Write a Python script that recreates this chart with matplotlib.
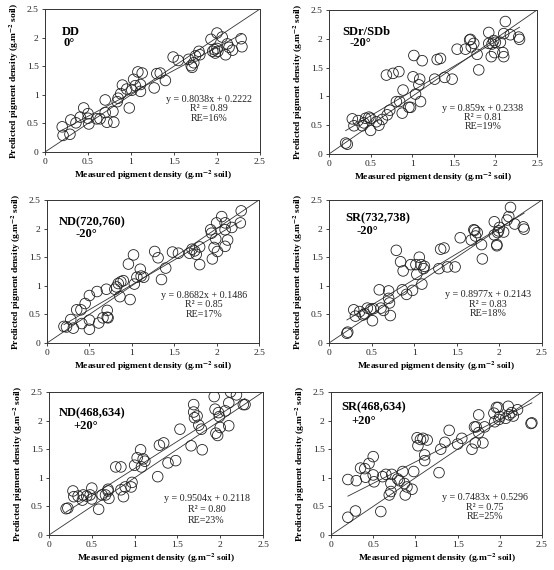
import matplotlib
matplotlib.use("Agg")
import matplotlib.pyplot as plt
import numpy as np

plt.rcParams['font.family'] = ['Liberation Serif', 'DejaVu Serif']
plt.rcParams['mathtext.fontset'] = 'stix'

# ---------------- data ----------------
dd_x = [0.20,0.21,0.29,0.30,0.36,0.41,0.45,0.50,0.51,0.50,0.60,0.64,0.70,0.70,0.72,0.80,0.79,0.84,0.85,0.88,0.90,0.98,0.95,1.01,1.03,1.05,1.08,1.11,1.11,1.13,1.27,1.30,1.34,1.40,1.49,1.55,1.67,1.70,1.71,1.73,1.75,1.79,1.80,1.93,1.95,1.97,1.98,2.00,2.01,2.00,2.06,2.10,2.12,2.14,2.18,2.28,2.29]
dd_y = [0.44,0.29,0.31,0.56,0.51,0.61,0.77,0.67,0.49,0.59,0.58,0.58,0.91,0.69,0.52,0.52,0.71,0.88,0.94,1.02,1.17,0.77,1.10,1.08,1.27,1.16,1.40,1.18,1.06,1.38,1.12,1.37,1.38,1.25,1.66,1.60,1.62,1.51,1.48,1.56,1.68,1.76,1.70,1.97,1.76,1.79,1.73,2.08,1.76,1.81,2.01,1.70,1.89,1.83,1.78,1.98,1.84]

sd_x = [0.20,0.22,0.28,0.30,0.35,0.40,0.42,0.44,0.48,0.50,0.50,0.57,0.60,0.64,0.69,0.70,0.73,0.77,0.81,0.84,0.85,0.88,0.89,0.96,0.98,1.02,1.01,1.04,1.08,1.09,1.10,1.12,1.27,1.30,1.34,1.39,1.48,1.54,1.64,1.69,1.70,1.71,1.74,1.78,1.80,1.92,1.92,1.95,1.96,1.98,1.99,2.00,2.06,2.09,2.10,2.12,2.10,2.18,2.28,2.29]
sd_y = [0.19,0.17,0.61,0.49,0.58,0.49,0.54,0.62,0.64,0.62,0.41,0.56,0.50,0.60,1.37,0.68,0.76,1.40,0.91,1.43,0.91,0.71,1.11,0.81,0.81,1.71,1.34,1.04,1.20,1.30,0.91,1.62,1.30,1.64,1.66,1.33,1.30,1.82,1.82,1.98,1.99,1.86,1.92,1.73,1.46,2.11,1.92,1.69,1.91,1.97,1.76,1.94,1.94,1.76,1.69,2.30,2.09,2.07,2.03,1.99]

nd1_x = [0.20,0.23,0.28,0.31,0.35,0.40,0.41,0.45,0.50,0.50,0.50,0.59,0.61,0.66,0.70,0.71,0.71,0.72,0.80,0.82,0.84,0.86,0.87,0.90,0.96,0.98,1.02,1.03,1.06,1.10,1.11,1.14,1.27,1.31,1.35,1.40,1.48,1.55,1.68,1.71,1.74,1.76,1.80,1.80,1.93,1.94,1.95,1.97,1.99,2.00,2.01,2.06,2.10,2.10,2.10,2.13,2.18,2.29,2.28]
nd1_y = [0.29,0.28,0.41,0.26,0.58,0.58,0.34,0.69,0.83,0.40,0.24,0.90,0.35,0.44,0.94,0.57,0.45,0.44,0.94,0.98,1.04,0.81,1.07,1.09,1.38,0.76,1.54,1.03,1.15,1.29,1.17,1.15,1.60,1.49,1.11,1.31,1.59,1.57,1.57,1.64,1.61,1.55,1.68,1.37,1.98,1.92,1.47,1.67,1.82,2.10,1.60,2.21,2.10,1.98,1.69,1.80,2.02,2.31,2.10]

sr1_x = [0.21,0.22,0.29,0.31,0.36,0.40,0.42,0.45,0.49,0.51,0.52,0.59,0.61,0.64,0.70,0.70,0.71,0.72,0.79,0.84,0.86,0.87,0.91,0.96,0.98,1.02,1.03,1.06,1.08,1.09,1.11,1.12,1.29,1.31,1.35,1.39,1.48,1.54,1.67,1.70,1.71,1.72,1.74,1.79,1.80,1.94,1.94,1.97,1.97,1.98,1.99,2.00,2.05,2.09,2.11,2.13,2.18,2.28,2.29]
sr1_y = [0.17,0.19,0.58,0.47,0.55,0.49,0.51,0.61,0.59,0.39,0.60,0.93,0.61,0.57,0.78,0.91,0.70,0.48,1.62,1.42,0.93,1.26,0.85,1.37,0.92,1.37,1.20,1.50,1.37,1.03,1.30,1.34,1.30,1.64,1.66,1.33,1.33,1.84,1.80,1.98,1.97,1.87,1.93,1.72,1.47,2.12,1.89,1.72,1.70,1.93,1.96,2.02,1.94,2.15,2.21,2.37,2.08,2.03,1.99]

nd2_x = [0.20,0.22,0.28,0.29,0.34,0.39,0.40,0.44,0.48,0.50,0.50,0.58,0.62,0.66,0.69,0.69,0.70,0.78,0.84,0.84,0.87,0.89,0.96,0.97,1.00,1.03,1.07,1.08,1.10,1.12,1.27,1.29,1.34,1.39,1.48,1.53,1.66,1.69,1.69,1.70,1.73,1.75,1.78,1.79,1.93,1.94,1.95,1.97,1.98,1.99,2.00,2.06,2.10,2.10,2.12,2.19,2.27,2.29]
nd2_y = [0.46,0.47,0.77,0.67,0.68,0.61,0.70,0.68,0.70,0.82,0.63,0.45,0.70,0.70,0.77,0.80,0.64,1.19,1.19,0.79,0.67,0.84,0.84,0.92,1.22,1.35,1.49,1.19,1.33,1.29,1.02,1.57,1.61,1.26,1.30,1.85,1.56,2.28,2.15,2.05,2.08,1.92,1.85,1.49,2.42,2.20,1.78,1.74,2.14,2.07,1.88,2.17,2.31,1.91,2.50,2.45,2.28,2.28]

sr2_x = [0.20,0.20,0.29,0.30,0.35,0.40,0.41,0.45,0.50,0.50,0.51,0.59,0.61,0.65,0.69,0.71,0.71,0.72,0.79,0.81,0.85,0.87,0.88,0.90,0.96,0.98,1.02,1.03,1.06,1.09,1.11,1.11,1.14,1.28,1.30,1.35,1.40,1.50,1.55,1.67,1.70,1.71,1.72,1.75,1.75,1.80,1.82,1.93,1.94,1.96,1.98,1.99,2.00,2.07,2.10,2.11,2.14,2.16,2.21,2.37,2.38]
sr2_y = [0.31,0.97,0.42,0.95,1.17,1.16,1.01,1.25,1.37,1.05,0.93,0.41,1.02,1.06,0.70,0.76,0.90,1.06,0.98,0.95,1.11,0.90,0.70,0.84,0.80,1.11,1.70,1.56,1.67,1.69,1.30,1.40,1.66,1.09,1.50,1.62,1.83,1.59,1.69,1.50,1.89,1.61,1.89,2.10,1.79,1.61,1.89,2.13,1.98,2.23,2.23,2.02,2.07,2.04,2.25,2.10,2.14,2.08,2.19,1.95,1.96]

titles = ["DD", "SDr/SDb", "ND(720,760)", "SR(732,738)", "ND(468,634)", "SR(468,634)"]
angles = ["0°", "-20°", "-20°", "-20°", "+20°", "+20°"]
slopes = [0.8038, 0.859, 0.8682, 0.8977, 0.9504, 0.7483]
intercepts = [0.2222, 0.2338, 0.1486, 0.2143, 0.2118, 0.5296]
eq_texts = ["y = 0.8038x + 0.2222", "y = 0.859x + 0.2338", "y = 0.8682x + 0.1486",
            "y = 0.8977x + 0.2143", "y = 0.9504x + 0.2118", "y = 0.7483x + 0.5296"]
r2_texts = ["R² = 0.89", "R² = 0.81", "R² = 0.85", "R² = 0.83", "R² = 0.80", "R² = 0.75"]
re_texts = ["RE=16%", "RE=19%", "RE=17%", "RE=18%", "RE=23%", "RE=25%"]
ticks = [0, 0.5, 1, 1.5, 2, 2.5]
tick_labels = ["0", "0.5", "1", "1.5", "2", "2.5"]

xs = [dd_x, sd_x, nd1_x, sr1_x, nd2_x, sr2_x]
ys = [dd_y, sd_y, nd1_y, sr1_y, nd2_y, sr2_y]

# ---------------- layout ----------------
W, H = 554, 570
fig = plt.figure(figsize=(W / 100, H / 100), dpi=100)
boxes = [(45, 9, 260, 152), (329, 10, 537, 154),
         (47, 200, 259, 343), (329, 200, 542, 343),
         (49, 392, 263, 535), (331, 392, 542, 535)]
title_pos = [((0.20, 2.10), (0.22, 1.90)), ((0.16, 2.12), (0.25, 1.92)),
             ((0.14, 2.11), (0.34, 1.90)), ((0.19, 2.18), (0.32, 1.95)),
             ((0.11, 2.12), (0.28, 1.90)), ((0.12, 2.24), (0.24, 2.00))]
eq_pos = [(1.91, 0.91, 0.76, 0.59), (1.85, 0.79, 0.64, 0.47),
          (1.85, 0.83, 0.67, 0.49), (1.87, 0.84, 0.68, 0.51),
          (1.84, 0.63, 0.44, 0.25), (1.82, 0.66, 0.48, 0.32)]

label_fs = 6.8
for i in range(6):
    l, t, r, b = boxes[i]
    ax = fig.add_axes([l / W, 1 - b / H, (r - l) / W, (b - t) / H])
    x = np.array(xs[i]); y = np.array(ys[i])
    ax.plot([0, 2.5], [0, 2.5], color='#333333', lw=0.6, zorder=2)
    xr = np.array([x.min(), x.max()])
    ax.plot(xr, slopes[i] * xr + intercepts[i], color='#333333', lw=0.6, zorder=2)
    ax.scatter(x, y, s=58, facecolors='none', edgecolors='#222222', linewidths=0.6, zorder=3)
    ax.set_xlim(0, 2.5); ax.set_ylim(0, 2.5)
    ax.set_xticks(ticks); ax.set_yticks(ticks)
    ax.set_xticklabels(tick_labels, fontsize=6.8)
    ax.set_yticklabels(tick_labels, fontsize=6.8)
    ax.tick_params(direction='out', length=2.5, width=0.6, pad=2, colors='#222222')
    for s in ax.spines.values():
        s.set_linewidth(0.7); s.set_color('#333333')
    ax.set_xlabel(r"Measured pigment density (g.m$^{\mathbf{-2}}$ soil)", fontsize=label_fs,
                  fontweight='bold', labelpad=2)
    ax.set_ylabel(r"Predicted pigment density (g.m$^{\mathbf{-2}}$ soil)", fontsize=label_fs,
                  fontweight='bold', labelpad=4)
    (tx, ty), (ax2, ay2) = title_pos[i]
    ax.text(tx, ty, titles[i], fontsize=9, fontweight='bold', va='center', ha='left')
    ax.text(ax2, ay2, angles[i], fontsize=9, fontweight='bold', va='center', ha='left')
    ex, e1, e2, e3 = eq_pos[i]
    ax.text(ex, e1, eq_texts[i], fontsize=7.2, ha='center', va='center', color='#222222')
    ax.text(ex, e2, r2_texts[i], fontsize=7.2, ha='center', va='center', color='#222222')
    ax.text(ex, e3, re_texts[i], fontsize=7.2, ha='center', va='center', color='#222222')

fig.savefig("out.png", dpi=100)
